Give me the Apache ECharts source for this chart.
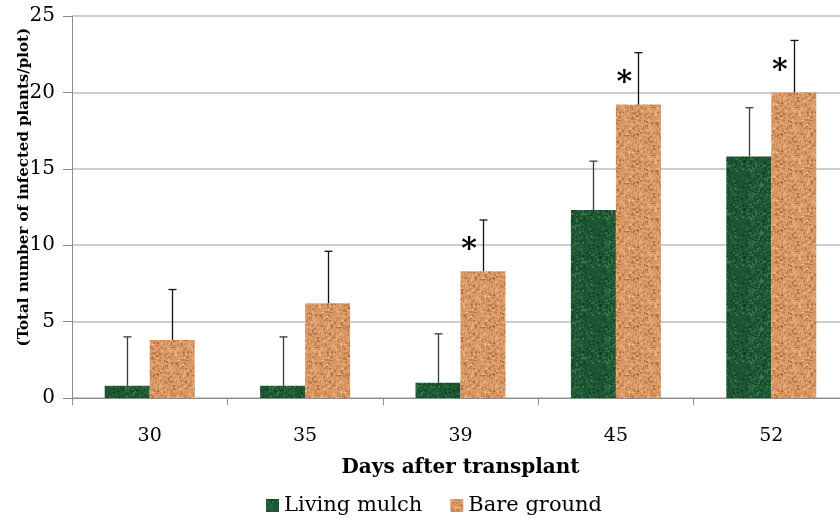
<!DOCTYPE html>
<html><head><meta charset="utf-8">
<script src="https://cdn.jsdelivr.net/npm/echarts@6/dist/echarts.min.js"></script>
<style>html,body{margin:0;padding:0;background:#fff;overflow:hidden;width:840px;height:519px}#c{width:852px;height:519px}</style>
</head><body><div id="c"></div>
<script>
const categories = ['30', '35', '39', '45', '52'];
const livingMulch = [0.8, 0.8, 1.0, 12.3, 15.8];
const livingMulchErr = [3.2, 3.2, 3.2, 3.2, 3.2];
const bareGround = [3.8, 6.2, 8.3, 19.2, 20.0];
const bareGroundErr = [3.3, 3.4, 3.35, 3.4, 3.4];
const significant = [false, false, true, true, true];
const yTicks = [0, 5, 10, 15, 20, 25];

function texture(base, spots, seed) {
  const cv = document.createElement('canvas');
  cv.width = 48; cv.height = 48;
  const g = cv.getContext('2d');
  g.fillStyle = base; g.fillRect(0, 0, 48, 48);
  let s = seed;
  function rnd() { s = (s * 1103515245 + 12345) & 0x7fffffff; return s / 0x7fffffff; }
  for (let i = 0; i < 700; i++) {
    g.fillStyle = spots[Math.floor(rnd() * spots.length)];
    g.globalAlpha = 0.35 + rnd() * 0.5;
    g.fillRect(Math.floor(rnd() * 48), Math.floor(rnd() * 48), 1 + Math.floor(rnd() * 2), 1 + Math.floor(rnd() * 2));
  }
  return cv;
}
const greenTex = texture('#1d5532', ['#2f7a4a', '#0f3a20', '#3f8a5a', '#184a2b'], 7);
const orangeTex = texture('#d99a66', ['#b9703f', '#eab388', '#a65e32', '#c88352', '#f0c49a'], 13);

const font = 'DejaVu Serif';
const BARW = 45;

const chart = echarts.init(document.getElementById('c'));
function errSeries(vals, errs, side, color) {
  return {
    type: 'custom', z: 5, silent: true,
    data: vals.map((v, i) => [i, v, v + errs[i]]),
    renderItem: function (params, api) {
      const i = api.value(0);
      const p0 = api.coord([i, api.value(1)]);
      const p1 = api.coord([i, api.value(2)]);
      const x = Math.round(p0[0] + side * BARW / 2) + 0.5;
      return {
        type: 'group', children: [
          { type: 'line', shape: { x1: x, y1: p0[1], x2: x, y2: p1[1] }, style: { stroke: color, lineWidth: 1.3 } },
          { type: 'line', shape: { x1: x - 4, y1: p1[1], x2: x + 4, y2: p1[1] }, style: { stroke: color, lineWidth: 1.3 } }
        ]
      };
    }
  };
}
chart.setOption({
  animation: false,
  grid: { left: 72, right: 3, top: 16, bottom: 121 },
  graphic: [{
    type: 'text', left: 17, top: 28, rotation: Math.PI / 2,
    style: { text: '(Total number of infected plants/plot)', fontFamily: font, fontSize: 15,
      fontWeight: 'bold', fill: '#000' }
  }],
  legend: {
    bottom: -2, left: 261, itemGap: 28, itemWidth: 13, itemHeight: 13, icon: 'rect',
    textStyle: { fontFamily: font, fontSize: 21, color: '#000' },
    data: [{ name: 'Living mulch', itemStyle: { color: { image: greenTex, repeat: 'repeat' } } },
           { name: 'Bare ground', itemStyle: { color: { image: orangeTex, repeat: 'repeat' } } }]
  },
  xAxis: {
    type: 'category', data: categories,
    name: 'Days after transplant', nameLocation: 'middle', nameGap: 60,
    nameTextStyle: { fontFamily: font, fontSize: 20, fontWeight: 'bold', color: '#000' },
    axisLine: { lineStyle: { color: '#8c8c8c', width: 1 } },
    axisTick: { show: true, length: 7, lineStyle: { color: '#8c8c8c' } },
    axisLabel: { fontFamily: font, fontSize: 19, color: '#000', margin: 29 }
  },
  yAxis: {
    type: 'value', min: 0, max: 25, interval: 5,
    axisLine: { show: true, lineStyle: { color: '#8c8c8c', width: 1 } },
    axisTick: { show: true, inside: false, length: 9, lineStyle: { color: '#8c8c8c' } },
    axisLabel: { fontFamily: font, fontSize: 20, color: '#000', margin: 17,
      formatter: v => yTicks.indexOf(v) >= 0 ? String(v) : '' },
    splitLine: { lineStyle: { color: '#bdbdbd', width: 1.5 } }
  },
  series: [
    { name: 'Living mulch', type: 'bar', data: livingMulch, barWidth: BARW, barGap: '0%',
      itemStyle: { color: { image: greenTex, repeat: 'repeat' } } },
    { name: 'Bare ground', type: 'bar', data: bareGround, barWidth: BARW,
      itemStyle: { color: { image: orangeTex, repeat: 'repeat' } } },
    errSeries(livingMulch, livingMulchErr, -1, '#3a3a3a'),
    errSeries(bareGround, bareGroundErr, 1, '#111'),
    {
      type: 'custom', z: 6, silent: true,
      data: bareGround.map((v, i) => [i, v]).filter((d, i) => significant[d[0]]),
      renderItem: function (params, api) {
        const p = api.coord([api.value(0), api.value(1)]);
        return { type: 'text', style: { text: '*', x: p[0] + BARW / 2 - 14, y: p[1] - 21,
          fontSize: 30, fontFamily: font, fontWeight: 'bold', fill: '#000', align: 'center', verticalAlign: 'middle' } };
      }
    }
  ]
});
</script></body></html>
